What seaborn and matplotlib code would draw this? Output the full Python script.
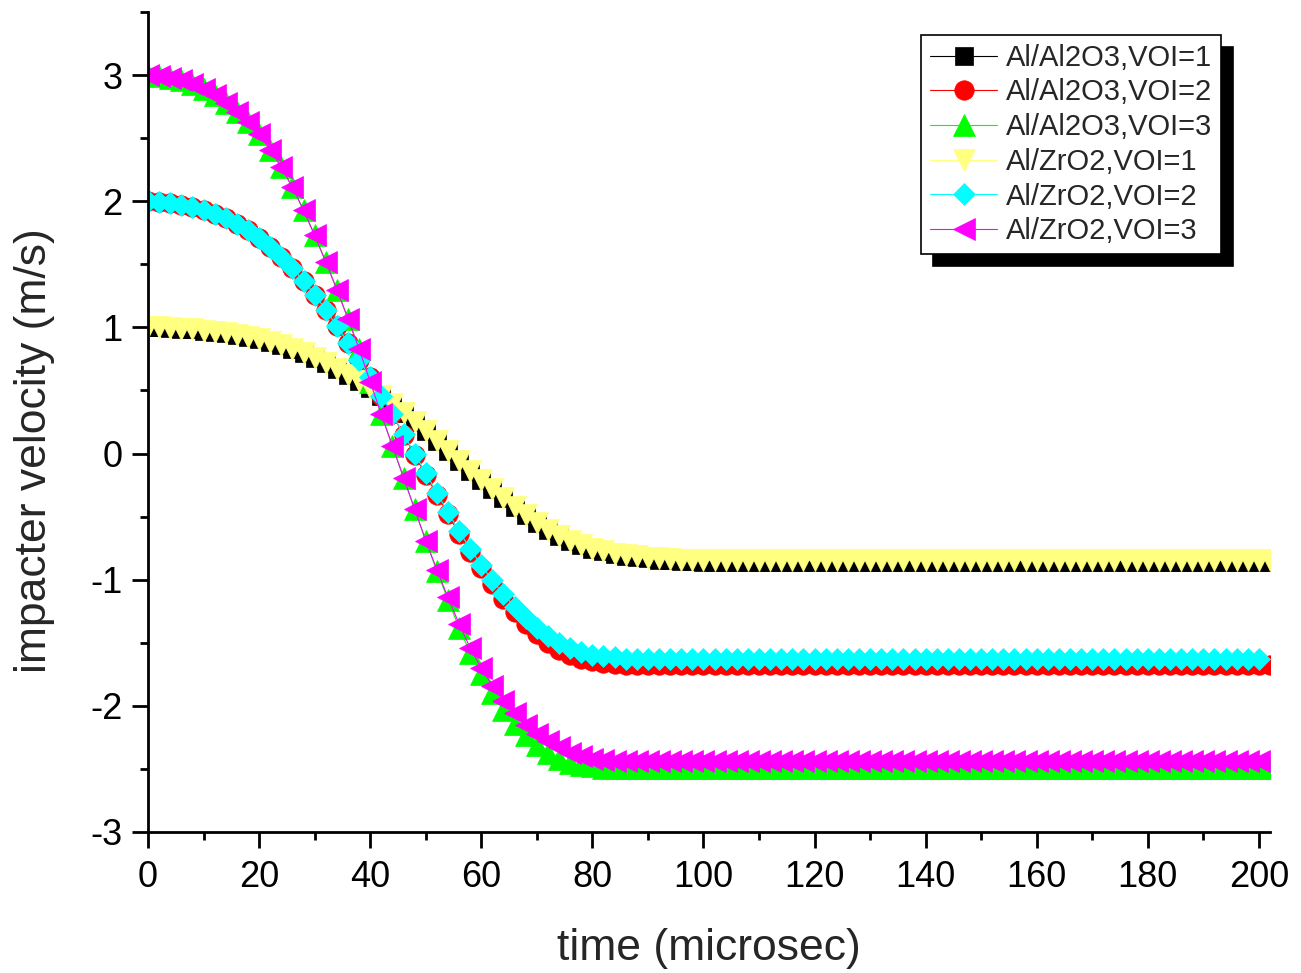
import matplotlib
matplotlib.use("Agg")
import matplotlib.pyplot as plt
from matplotlib.ticker import MultipleLocator
import seaborn as sns

# ---- data ----
time_long = list(range(0, 203, 2))   # 0 .. 202 microsec
time_short = list(range(0, 201, 2))  # 0 .. 200 microsec

al2o3_voi1 = [
    1.00, 1.00, 0.995, 0.99, 0.985, 0.975, 0.965, 0.955, 0.94, 0.925,
    0.905, 0.885, 0.86, 0.83, 0.795, 0.755, 0.715, 0.67, 0.625, 0.575,
    0.52, 0.46, 0.395, 0.325, 0.25, 0.175, 0.10, 0.02, -0.06, -0.135,
    -0.21, -0.285, -0.355, -0.425, -0.49, -0.55, -0.605, -0.65, -0.69, -0.725,
    -0.755, -0.775, -0.795, -0.81, -0.82, -0.83, -0.84, -0.845, -0.85, -0.855,
    -0.86, -0.86, -0.86, -0.86, -0.86, -0.86, -0.86, -0.86, -0.86, -0.86,
    -0.86, -0.86, -0.86, -0.86, -0.86, -0.86, -0.86, -0.86, -0.86, -0.86,
    -0.86, -0.86, -0.86, -0.86, -0.86, -0.86, -0.86, -0.86, -0.86, -0.86,
    -0.86, -0.86, -0.86, -0.86, -0.86, -0.86, -0.86, -0.86, -0.86, -0.86,
    -0.86, -0.86, -0.86, -0.86, -0.86, -0.86, -0.86, -0.86, -0.86, -0.86,
    -0.86, -0.86,
]

al2o3_voi2 = [
    2.00, 1.995, 1.985, 1.97, 1.955, 1.93, 1.90, 1.865, 1.82, 1.77,
    1.71, 1.64, 1.56, 1.47, 1.37, 1.26, 1.14, 1.01, 0.88, 0.745,
    0.605, 0.46, 0.31, 0.15, -0.01, -0.17, -0.325, -0.48, -0.635, -0.78,
    -0.91, -1.035, -1.15, -1.255, -1.35, -1.43, -1.50, -1.555, -1.595, -1.625,
    -1.645, -1.66, -1.67, -1.675, -1.68, -1.68, -1.68, -1.68, -1.68, -1.68,
    -1.68, -1.68, -1.68, -1.68, -1.68, -1.68, -1.68, -1.68, -1.68, -1.68,
    -1.68, -1.68, -1.68, -1.68, -1.68, -1.68, -1.68, -1.68, -1.68, -1.68,
    -1.68, -1.68, -1.68, -1.68, -1.68, -1.68, -1.68, -1.68, -1.68, -1.68,
    -1.68, -1.68, -1.68, -1.68, -1.68, -1.68, -1.68, -1.68, -1.68, -1.68,
    -1.68, -1.68, -1.68, -1.68, -1.68, -1.68, -1.68, -1.68, -1.68, -1.68,
    -1.68, -1.68,
]

al2o3_voi3 = [
    3.00, 2.99, 2.98, 2.96, 2.93, 2.89, 2.84, 2.78, 2.71, 2.63,
    2.53, 2.41, 2.27, 2.11, 1.93, 1.73, 1.52, 1.30, 1.07, 0.83,
    0.57, 0.31, 0.06, -0.19, -0.44, -0.69, -0.93, -1.16, -1.38, -1.58,
    -1.75, -1.90, -2.03, -2.14, -2.23, -2.31, -2.37, -2.42, -2.45, -2.47,
    -2.48, -2.49, -2.495, -2.495, -2.495, -2.495, -2.495, -2.495, -2.495, -2.495,
    -2.495, -2.495, -2.495, -2.495, -2.495, -2.495, -2.495, -2.495, -2.495, -2.495,
    -2.495, -2.495, -2.495, -2.495, -2.495, -2.495, -2.495, -2.495, -2.495, -2.495,
    -2.495, -2.495, -2.495, -2.495, -2.495, -2.495, -2.495, -2.495, -2.495, -2.495,
    -2.495, -2.495, -2.495, -2.495, -2.495, -2.495, -2.495, -2.495, -2.495, -2.495,
    -2.495, -2.495, -2.495, -2.495, -2.495, -2.495, -2.495, -2.495, -2.495, -2.495,
    -2.495, -2.495,
]

zro2_voi1 = [
    1.00, 1.00, 0.995, 0.99, 0.985, 0.975, 0.965, 0.955, 0.94, 0.925,
    0.905, 0.885, 0.86, 0.83, 0.795, 0.755, 0.715, 0.67, 0.625, 0.575,
    0.52, 0.46, 0.395, 0.325, 0.25, 0.175, 0.10, 0.02, -0.06, -0.135,
    -0.21, -0.285, -0.355, -0.425, -0.49, -0.55, -0.605, -0.65, -0.69, -0.725,
    -0.755, -0.775, -0.795, -0.805, -0.815, -0.825, -0.83, -0.835, -0.84, -0.84,
    -0.845, -0.845, -0.845, -0.845, -0.845, -0.845, -0.845, -0.845, -0.845, -0.845,
    -0.845, -0.845, -0.845, -0.845, -0.845, -0.845, -0.845, -0.845, -0.845, -0.845,
    -0.845, -0.845, -0.845, -0.845, -0.845, -0.845, -0.845, -0.845, -0.845, -0.845,
    -0.845, -0.845, -0.845, -0.845, -0.845, -0.845, -0.845, -0.845, -0.845, -0.845,
    -0.845, -0.845, -0.845, -0.845, -0.845, -0.845, -0.845, -0.845, -0.845, -0.845,
    -0.845, -0.845,
]

zro2_voi2 = [
    2.00, 1.995, 1.985, 1.97, 1.955, 1.93, 1.90, 1.865, 1.82, 1.77,
    1.71, 1.64, 1.56, 1.47, 1.37, 1.26, 1.14, 1.01, 0.88, 0.745,
    0.605, 0.46, 0.31, 0.155, 0.0, -0.155, -0.31, -0.465, -0.615, -0.755,
    -0.885, -1.005, -1.115, -1.215, -1.305, -1.385, -1.45, -1.505, -1.545, -1.575,
    -1.595, -1.605, -1.615, -1.625, -1.63, -1.63, -1.63, -1.63, -1.63, -1.63,
    -1.63, -1.63, -1.63, -1.63, -1.63, -1.63, -1.63, -1.63, -1.63, -1.63,
    -1.63, -1.63, -1.63, -1.63, -1.63, -1.63, -1.63, -1.63, -1.63, -1.63,
    -1.63, -1.63, -1.63, -1.63, -1.63, -1.63, -1.63, -1.63, -1.63, -1.63,
    -1.63, -1.63, -1.63, -1.63, -1.63, -1.63, -1.63, -1.63, -1.63, -1.63,
    -1.63, -1.63, -1.63, -1.63, -1.63, -1.63, -1.63, -1.63, -1.63, -1.63,
    -1.63,
]

zro2_voi3 = [
    3.00, 2.99, 2.98, 2.96, 2.93, 2.89, 2.84, 2.78, 2.71, 2.63,
    2.53, 2.41, 2.27, 2.11, 1.93, 1.73, 1.52, 1.30, 1.07, 0.83,
    0.57, 0.31, 0.06, -0.19, -0.44, -0.69, -0.92, -1.14, -1.35, -1.54,
    -1.70, -1.84, -1.96, -2.06, -2.15, -2.22, -2.28, -2.33, -2.37, -2.40,
    -2.42, -2.43, -2.435, -2.435, -2.435, -2.435, -2.435, -2.435, -2.435, -2.435,
    -2.435, -2.435, -2.435, -2.435, -2.435, -2.435, -2.435, -2.435, -2.435, -2.435,
    -2.435, -2.435, -2.435, -2.435, -2.435, -2.435, -2.435, -2.435, -2.435, -2.435,
    -2.435, -2.435, -2.435, -2.435, -2.435, -2.435, -2.435, -2.435, -2.435, -2.435,
    -2.435, -2.435, -2.435, -2.435, -2.435, -2.435, -2.435, -2.435, -2.435, -2.435,
    -2.435, -2.435, -2.435, -2.435, -2.435, -2.435, -2.435, -2.435, -2.435, -2.435,
    -2.435,
]

labels = ["Al/Al2O3,VOI=1", "Al/Al2O3,VOI=2", "Al/Al2O3,VOI=3",
          "Al/ZrO2,VOI=1", "Al/ZrO2,VOI=2", "Al/ZrO2,VOI=3"]
times = [time_long, time_long, time_long, time_long, time_short, time_short]
values = [al2o3_voi1, al2o3_voi2, al2o3_voi3, zro2_voi1, zro2_voi2, zro2_voi3]
colors = ["#000000", "#ff0000", "#00ff00", "#ffff80", "#00ffff", "#ff00ff"]
markers = ["s", "o", "^", "v", "D", "<"]
msizes = [12.5, 14.0, 16.5, 16.5, 11.5, 16.5]

x_ticks = [0, 20, 40, 60, 80, 100, 120, 140, 160, 180, 200]
y_ticks = [-3, -2, -1, 0, 1, 2, 3]

for t, v in zip(times, values):
    assert len(t) == len(v)

# ---- figure ----
sns.set_style("ticks")
plt.rcParams["font.family"] = ["Liberation Sans", "DejaVu Sans"]
plt.rcParams["axes.unicode_minus"] = False

W, H = 1301, 973
fig = plt.figure(figsize=(W / 100, H / 100), dpi=100)
ax = fig.add_axes([148 / W, 1 - 832 / H, (1270 - 148) / W, (832 - 12) / H])

for lab, t, v, c, m, ms in zip(labels, times, values, colors, markers, msizes):
    sns.lineplot(x=t, y=v, ax=ax, color=c, marker=m, markersize=ms,
                 markeredgecolor=c, markeredgewidth=0.5, linewidth=0.8,
                 label=lab, sort=False, estimator=None, errorbar=None)

ax.set_xlim(0, 202)
ax.set_ylim(-3, 3.5)
ax.set_xticks(x_ticks)
ax.set_yticks(y_ticks)
ax.xaxis.set_minor_locator(MultipleLocator(10))
ax.yaxis.set_minor_locator(MultipleLocator(0.5))
ax.tick_params(which="major", length=11.5, width=2, direction="out",
               labelsize=26, color="black", labelcolor="black")
ax.tick_params(axis="x", which="major", pad=9)
ax.tick_params(axis="y", which="major", pad=7)
ax.tick_params(which="minor", length=6, width=2, direction="out", color="black")
for s in ["left", "bottom"]:
    ax.spines[s].set_linewidth(2)
    ax.spines[s].set_color("black")
sns.despine(ax=ax)

ax.set_xlabel("time (microsec)", fontsize=32)
ax.set_ylabel("impacter velocity (m/s)", fontsize=32)
ax.xaxis.set_label_coords(0.5, (832 - 928) / 820)
ax.yaxis.set_label_coords((55 - 148) / 1122, (832 - 451) / 820)

leg = ax.legend(loc="upper right", bbox_to_anchor=(1221 / W, 1 - 35 / H),
                bbox_transform=fig.transFigure, fontsize=21, frameon=True,
                fancybox=False, framealpha=1, edgecolor="black",
                handlelength=2.3, handletextpad=0.3, labelspacing=0.23,
                borderpad=0.3, borderaxespad=0,
                shadow={"ox": 8.6, "oy": -8.6, "facecolor": "black",
                        "edgecolor": "black", "alpha": 1})
leg.get_frame().set_linewidth(1.2)

fig.savefig("out.png", dpi=100, facecolor="white")
